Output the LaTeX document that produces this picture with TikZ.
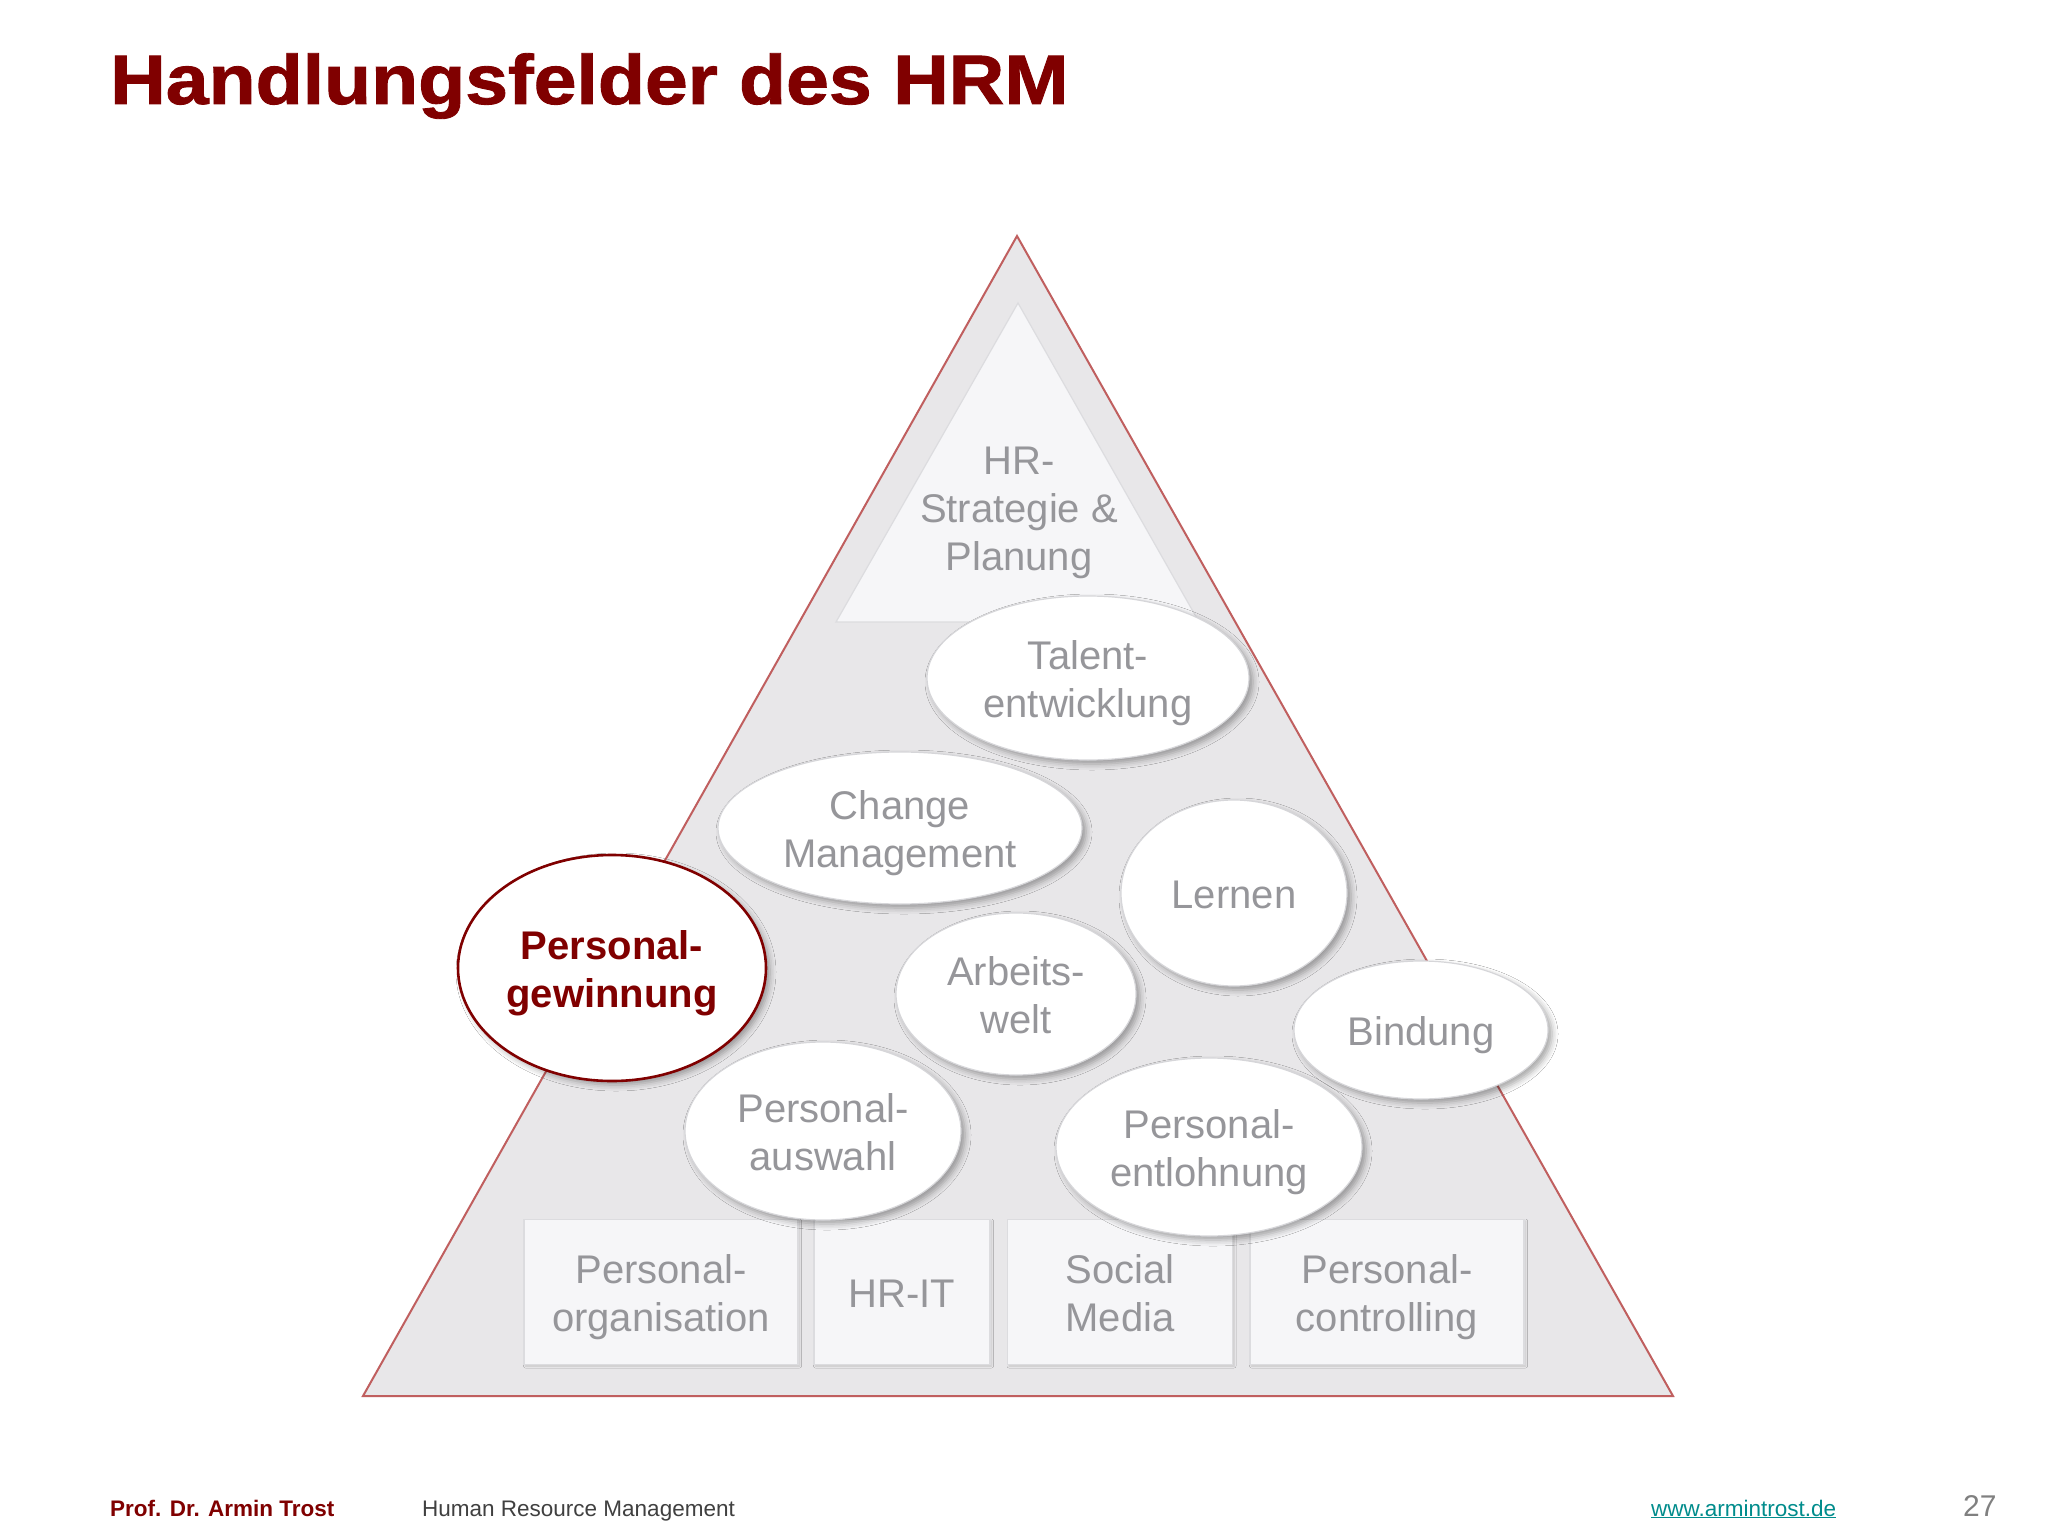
\documentclass[tikz,border=0pt]{standalone}
\usepackage{fontspec}
\setmainfont{Liberation Sans}
\newfontfamily\titlefont{Liberation Sans Bold}[FakeBold=1.2]
\usetikzlibrary{shapes.geometric,shadows.blur}
\definecolor{hrmred}{RGB}{128,0,0}
\definecolor{trired}{RGB}{192,95,95}
\definecolor{trifill}{RGB}{232,231,233}
\definecolor{boxfill}{RGB}{246,246,248}
\definecolor{boxline}{RGB}{220,220,223}
\definecolor{txtgray}{RGB}{150,150,154}
\definecolor{ellline}{RGB}{214,214,217}
\definecolor{urlteal}{RGB}{0,140,140}
\definecolor{footgray}{RGB}{64,64,64}
\definecolor{numgray}{RGB}{128,128,128}
\newcommand\tp{\rule{0pt}{40pt}}
\newcommand\bt{\rule[-8.5pt]{0pt}{8.5pt}}
\begin{document}
\begin{tikzpicture}[x=1pt,y=-1pt,
  lbl/.style={font=\fontsize{40}{48}\selectfont, text=txtgray, align=center, inner sep=0pt},
  oval/.style={ellipse, lbl, draw=ellline, line width=1.2pt, fill=white,
    blur shadow={shadow xshift=4pt, shadow yshift=-4pt, shadow blur radius=6pt, shadow opacity=35}},
  fieldbox/.style={rectangle, lbl, draw=boxline, line width=1.2pt, fill=boxfill,
    blur shadow={shadow xshift=1.5pt, shadow yshift=-1.5pt, shadow blur radius=2pt, shadow opacity=15}},
  foot/.style={font=\fontsize{22.5}{27}\selectfont, anchor=base west, inner sep=0pt}
]
\useasboundingbox (0,0) rectangle (2048,1536);
\fill[white] (0,0) rectangle (2048,1536);

% title
\node[anchor=base west, inner sep=0pt, text=hrmred] (title) at (110,104)
  {\scalebox{1.1}[1]{\fontsize{70}{84}\selectfont\titlefont Handlungsfelder des HRM}};

% pyramid
\coordinate (apex) at (1017,236);
\coordinate (bl) at (363,1396);
\coordinate (br) at (1673,1396);
\draw[trired, line width=2pt, fill=trifill, line join=miter] (apex) -- (bl) -- (br) -- cycle;

\coordinate (iapex) at (1018,303);
\coordinate (ibl) at (836,622);
\coordinate (ibr) at (1199,622);
\draw[boxline, line width=1.2pt, fill=boxfill] (iapex) -- (ibl) -- (ibr) -- cycle;
\node[lbl] (strat) at (1019,507) {\tp HR-\\Strategie \&\\Planung\bt};

% bottom boxes
\node[fieldbox, minimum width=274pt, minimum height=145pt] (org) at (661,1292) {\tp Personal-\\organisation\bt};
\node[fieldbox, minimum width=176pt, minimum height=145pt] (hrit) at (902,1292) {\tp HR-IT\bt};
\node[fieldbox, minimum width=225pt, minimum height=145pt] (soc) at (1120,1292) {\tp Social\\Media\bt};
\node[fieldbox, minimum width=274pt, minimum height=145pt] (ctrl) at (1387,1292) {\tp Personal-\\controlling\bt};

% ovals
\node[oval, minimum width=322pt, minimum height=164pt] (tal) at (1088,678) {\tp Talent-\\entwicklung\bt};
\node[oval, minimum width=364pt, minimum height=152pt] (chg) at (900,828) {\tp Change\\Management\bt};
\node[oval, minimum width=226pt, minimum height=186pt] (lern) at (1234,893) {\tp Lernen\bt};
\node[oval, minimum width=240pt, minimum height=162pt] (arb) at (1016,994) {\tp Arbeits-\\welt\bt};
\node[oval, minimum width=254pt, minimum height=138pt] (bind) at (1421,1030) {\tp Bindung\bt};
\node[oval, minimum width=276pt, minimum height=178pt] (ausw) at (823,1131) {\tp Personal-\\auswahl\bt};
\node[oval, minimum width=306pt, minimum height=178pt] (entl) at (1209,1147) {\tp Personal-\\entlohnung\bt};
\node[oval, draw=hrmred, line width=2.6pt, text=hrmred, font=\fontsize{40}{48}\selectfont\bfseries,
  minimum width=308pt, minimum height=226pt] (gew) at (612,968) {\tp Personal-\\gewinnung\bt};

% footer
\node[foot, text=hrmred, font=\fontsize{22.5}{27}\selectfont\bfseries] (prof) at (110,1516) {Prof. Dr. Armin Trost};
\node[foot, text=footgray] (course) at (422,1516) {Human Resource Management};
\node[foot, text=urlteal] (url) at (1651,1516) {\underline{www.armintrost.de}};
\node[foot, text=numgray, font=\fontsize{30}{36}\selectfont] (page) at (1963,1516) {27};
\end{tikzpicture}
\end{document}
